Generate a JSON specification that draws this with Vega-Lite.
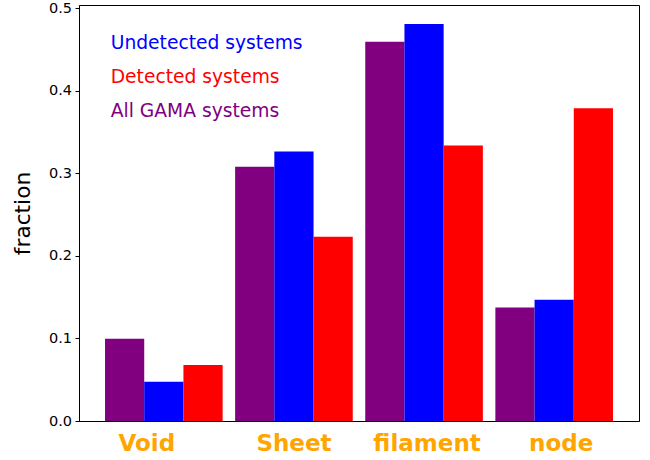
{
  "$schema": "https://vega.github.io/schema/vega-lite/v6.json",
  "width": 560,
  "height": 416,
  "autosize": {"type": "none"},
  "padding": {"left": 79, "top": 5, "right": 11, "bottom": 39},
  "background": "white",
  "config": {"view": {"stroke": "black", "strokeWidth": 1}, "font": "DejaVu Sans"},
  "data": {"values": [
    {"category": "Void", "sample": "All GAMA systems", "fraction": 0.0996},
    {"category": "Void", "sample": "Undetected systems", "fraction": 0.0476},
    {"category": "Void", "sample": "Detected systems", "fraction": 0.0677},
    {"category": "Sheet", "sample": "All GAMA systems", "fraction": 0.308},
    {"category": "Sheet", "sample": "Undetected systems", "fraction": 0.3265},
    {"category": "Sheet", "sample": "Detected systems", "fraction": 0.2233},
    {"category": "filament", "sample": "All GAMA systems", "fraction": 0.4595},
    {"category": "filament", "sample": "Undetected systems", "fraction": 0.481},
    {"category": "filament", "sample": "Detected systems", "fraction": 0.3338},
    {"category": "node", "sample": "All GAMA systems", "fraction": 0.1375},
    {"category": "node", "sample": "Undetected systems", "fraction": 0.147},
    {"category": "node", "sample": "Detected systems", "fraction": 0.379}
  ]},
  "mark": {"type": "bar"},
  "encoding": {
    "x": {
      "field": "category", "type": "nominal",
      "sort": ["Void", "Sheet", "filament", "node"],
      "scale": {"paddingInner": 0.096, "paddingOuter": 0.2},
      "axis": {
        "title": null, "labelAngle": 0, "ticks": false,
        "labelFont": "DejaVu Sans", "labelFontSize": 23, "labelFontWeight": "bold",
        "labelColor": "orange", "labelPadding": 11, "domainColor": "black",
        "labelOffset": {"condition": [
          {"test": "datum.value === 'Void'", "value": -17},
          {"test": "datum.value === 'filament'", "value": 3},
          {"test": "datum.value === 'node'", "value": 7}
        ], "value": 0}
      }
    },
    "xOffset": {
      "field": "sample",
      "sort": ["All GAMA systems", "Undetected systems", "Detected systems"],
      "scale": {"paddingInner": 0, "paddingOuter": 0}
    },
    "y": {
      "field": "fraction", "type": "quantitative",
      "scale": {"domain": [0, 0.504], "nice": false},
      "axis": {
        "title": "fraction", "titleFont": "DejaVu Sans", "titleFontSize": 21.7,
        "titleFontWeight": "normal", "titleColor": "black", "titlePadding": 14,
        "values": [0, 0.1, 0.2, 0.3, 0.4, 0.5], "format": ".1f",
        "labelFont": "DejaVu Sans", "labelFontSize": 14.5, "labelColor": "black",
        "labelFlush": false, "labelPadding": 3.5,
        "tickColor": "black", "tickSize": 4, "grid": false, "domainColor": "black"
      }
    },
    "color": {
      "field": "sample", "type": "nominal",
      "scale": {
        "domain": ["All GAMA systems", "Undetected systems", "Detected systems"],
        "range": ["#800080", "#0000ff", "#ff0000"]
      },
      "legend": {
        "orient": "none", "legendX": 13, "legendY": 29, "title": null,
        "values": ["Undetected systems", "Detected systems", "All GAMA systems"],
        "symbolSize": 0, "symbolStrokeWidth": 0, "symbolOpacity": 0,
        "labelFont": "DejaVu Sans", "labelFontSize": 18.7, "labelOffset": 0,
        "labelLimit": 400, "rowPadding": 14, "padding": 0,
        "encode": {"labels": {"update": {"fill": {"scale": "color", "field": "value"}}}}
      }
    }
  }
}
